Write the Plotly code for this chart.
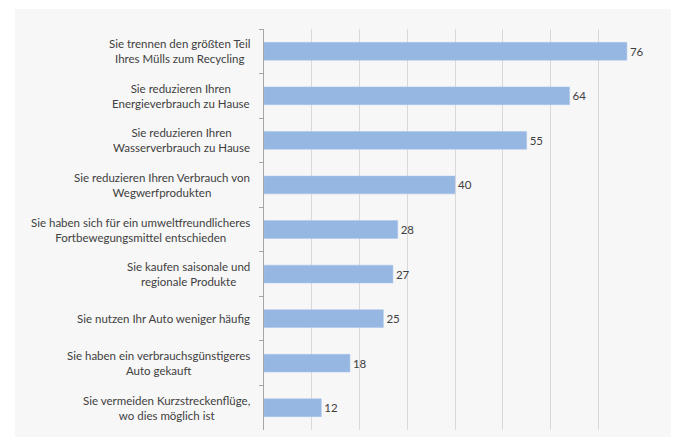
import plotly.graph_objects as go

categories = [
    "Sie trennen den größten Teil<br>Ihres Mülls zum Recycling",
    "Sie reduzieren Ihren<br>Energieverbrauch zu Hause",
    "Sie reduzieren Ihren<br>Wasserverbrauch zu Hause",
    "Sie reduzieren Ihren Verbrauch von<br>Wegwerfprodukten",
    "Sie haben sich für ein umweltfreundlicheres<br>Fortbewegungsmittel entschieden",
    "Sie kaufen saisonale und<br>regionale Produkte",
    "Sie nutzen Ihr Auto weniger häufig",
    "Sie haben ein verbrauchsgünstigeres<br>Auto gekauft",
    "Sie vermeiden Kurzstreckenflüge,<br>wo dies möglich ist",
]
values = [76, 64, 55, 40, 28, 27, 25, 18, 12]

FONT = "Lato, 'Open Sans', sans-serif"
TXT = "#404040"

fig = go.Figure()
fig.add_trace(go.Bar(
    y=categories, x=values, orientation="h",
    marker=dict(color="#95b7e2", line=dict(color="#a9c5ea", width=0.5)),
    text=[str(v) for v in values], textposition="outside",
    textfont=dict(family=FONT, size=11.5, color=TXT),
    cliponaxis=False, width=0.4,
))

annotations = [
    dict(x=0, y=c, xref="paper", yref="y", text=c, showarrow=False,
         xanchor="right", yanchor="middle", align="center", xshift=-12,
         font=dict(family=FONT, size=11.5, color=TXT))
    for c in categories
]

fig.update_layout(
    width=671, height=429,
    margin=dict(l=256, r=33, t=21, b=7, autoexpand=False),
    paper_bgcolor="white", plot_bgcolor="rgba(0,0,0,0)",
    showlegend=False, annotations=annotations,
    shapes=[dict(type="rect", xref="paper", yref="paper",
                 x0=-0.652, x1=1.2, y0=-0.05, y1=1.05,
                 fillcolor="#f7f7f7", line=dict(width=0), layer="below")],
    xaxis=dict(range=[0, 80], dtick=10, showgrid=True, gridcolor="#d9d9d9",
               gridwidth=1, showticklabels=False, zeroline=False,
               showline=False, fixedrange=True, automargin=False),
    yaxis=dict(categoryorder="array", categoryarray=categories,
               autorange="reversed", showticklabels=False, automargin=False,
               showline=True, linecolor="#a6a6a6", linewidth=1,
               ticks="outside", ticklen=4, tickcolor="#a6a6a6",
               tickson="boundaries", showgrid=False),
    bargap=0.6,
)

fig.write_html("out.html")
